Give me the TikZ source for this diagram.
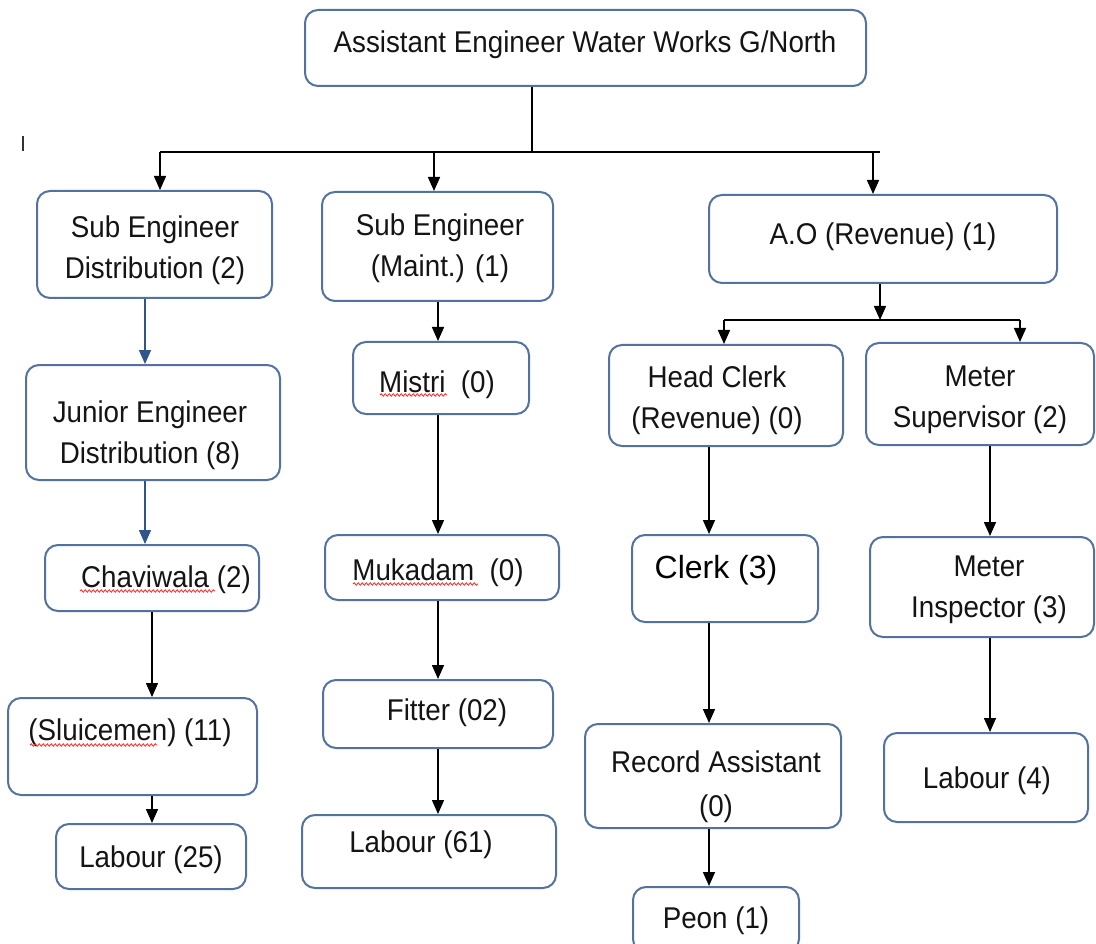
\documentclass[tikz,border=0pt]{standalone}
\usepackage{fontspec}
\setmainfont{Liberation Sans}[FakeStretch=0.925]
\newfontfamily\clerkfont{Liberation Sans}
\usepackage{xcolor}
\usepackage{tikz}
\usetikzlibrary{arrows.meta}
\usetikzlibrary{decorations.pathmorphing}

\definecolor{boxline}{RGB}{84,114,160}
\definecolor{arrowblue}{RGB}{47,85,140}
\definecolor{txt}{RGB}{20,20,20}

\begin{document}
\begin{tikzpicture}[x=1pt, y=-1pt,
        box/.style={draw=boxline, line width=2pt, rounded corners=13pt, inner sep=0pt, fill=white},
        lbl/.style={font=\fontsize{30}{41}\selectfont, text=txt, align=center, inner sep=0pt},
        link/.style={line width=1.5pt},
        conn/.style={line width=1.5pt, -{Triangle[width=12pt,length=14pt]}},
        wavy/.style={red!85!white, line width=0.8pt, decorate,
            decoration={snake, amplitude=1.2pt, segment length=4pt}}]

        \fill[white] (0,0) rectangle (1096,944);
        \useasboundingbox (0,0) rectangle (1096,944);
        \clip (0,0) rectangle (1096,944);

        \draw[line width=1.4pt, black!80] (23,136) -- (23,151);

        \node[box, minimum width=561pt, minimum height=76pt] (ae) at (585.5,48) {};
        \node[box, minimum width=235pt, minimum height=107pt] (sed) at (154.5,244.5) {};
        \node[box, minimum width=231pt, minimum height=109pt] (sem) at (437.5,246.5) {};
        \node[box, minimum width=348pt, minimum height=88pt] (ao) at (883,239) {};
        \node[box, minimum width=234pt, minimum height=101pt] (hc) at (726,395.5) {};
        \node[box, minimum width=228pt, minimum height=102pt] (ms) at (980,394) {};
        \node[box, minimum width=254pt, minimum height=115pt] (je) at (153,422.5) {};
        \node[box, minimum width=214pt, minimum height=66pt] (chv) at (152,578) {};
        \node[box, minimum width=249pt, minimum height=97pt] (sl) at (132.5,746.5) {};
        \node[box, minimum width=190pt, minimum height=65pt] (lab25) at (151,856.5) {};
        \node[box, minimum width=176pt, minimum height=72pt] (mis) at (441,378) {};
        \node[box, minimum width=234pt, minimum height=65pt] (muk) at (442,567.5) {};
        \node[box, minimum width=230pt, minimum height=68pt] (fit) at (438,714) {};
        \node[box, minimum width=254pt, minimum height=73pt] (lab61) at (429,851.5) {};
        \node[box, minimum width=186pt, minimum height=87pt] (clk) at (725,578.5) {};
        \node[box, minimum width=256pt, minimum height=104pt] (ra) at (713,776) {};
        \node[box, minimum width=166pt, minimum height=65pt] (peon) at (716,919.5) {};
        \node[box, minimum width=224pt, minimum height=100pt] (mi) at (982,587) {};
        \node[box, minimum width=204pt, minimum height=89pt] (lab4) at (986,777.5) {};

        \node[lbl, anchor=base] (aeT) at (585,53) {Assistant Engineer Water Works G/North};
        \node[lbl] (sedT) at (155,250) {Sub Engineer\\Distribution (2)};
        \node[lbl] (semT) at (440,248) {Sub Engineer\\(Maint.) (1)};
        \node[lbl, anchor=base] (aoT) at (883,245) {A.O (Revenue) (1)};
        \node[lbl] (hcT) at (717,400) {Head Clerk\\(Revenue) (0)};
        \node[lbl] (msT) at (980,400) {Meter\\Supervisor (2)};
        \node[lbl] (jeT) at (150,435) {Junior Engineer\\Distribution (8)};
        \node[lbl, anchor=base] (chvT) at (166,587) {Chaviwala (2)};
        \node[lbl, anchor=base] (slT) at (130,740) {(Sluicemen) (11)};
        \node[lbl, anchor=base] (lab25T) at (151,867) {Labour (25)};
        \node[lbl, anchor=base] (misT) at (437,392) {Mistri\ \ (0)};
        \node[lbl, anchor=base] (mukT) at (438,580) {Mukadam\ \ (0)};
        \node[lbl, anchor=base] (fitT) at (447,720) {Fitter (02)};
        \node[lbl, anchor=base] (lab61T) at (421,852) {Labour (61)};
        \node[lbl, anchor=base, font=\clerkfont\fontsize{32}{38}\selectfont, text=black] (clkT) at (716,578) {Clerk (3)};
        \node[lbl] (raT) at (716,787) {Record Assistant\\[3pt](0)};
        \node[lbl, anchor=base] (peonT) at (716,928) {Peon (1)};
        \node[lbl] (miT) at (989,590) {Meter\\Inspector (3)};
        \node[lbl, anchor=base] (lab4T) at (987,788) {Labour (4)};

        \draw[wavy] (80,591) -- (215,591);
        \draw[wavy] (380,395) -- (447,395);
        \draw[wavy] (353,584) -- (478,584);
        \draw[wavy] (30,745) -- (157,745);

        \coordinate (top) at (532,152);
        \coordinate (busL) at (160,152);
        \coordinate (busM) at (434,152);
        \coordinate (busA) at (873,152);
        \coordinate (busR) at (880,152);
        \draw[link] (ae.south -| top) -- (top);
        \draw[link] (busL) -- (busR);
        \draw[conn] (busL) -- (busL |- sed.north);
        \draw[conn] (busM) -- (busM |- sem.north);
        \draw[conn] (busA) -- (busA |- ao.north);

        \coordinate (rev) at (880,320);
        \coordinate (revL) at (724,320);
        \coordinate (revR) at (1020,320);
        \draw[conn] (ao.south -| rev) -- (rev);
        \draw[link] (revL) -- (revR);
        \draw[conn] (revL) -- (revL |- hc.north);
        \draw[conn] (revR) -- (revR |- ms.north);

        \draw[conn, arrowblue] (sed.south -| 145,0) -- (je.north -| 145,0);
        \draw[conn, arrowblue] (je.south -| 145,0) -- (chv.north -| 145,0);
        \draw[conn] (chv.south -| 152,0) -- (sl.north -| 152,0);
        \draw[conn] (sl.south -| 152,0) -- (lab25.north -| 152,0);

        \draw[conn] (sem.south -| 438,0) -- (mis.north -| 438,0);
        \draw[conn] (mis.south -| 438,0) -- (muk.north -| 438,0);
        \draw[conn] (muk.south -| 438,0) -- (fit.north -| 438,0);
        \draw[conn] (fit.south -| 438,0) -- (lab61.north -| 438,0);

        \draw[conn] (hc.south -| 709,0) -- (clk.north -| 709,0);
        \draw[conn] (clk.south -| 709,0) -- (ra.north -| 709,0);
        \draw[conn] (ra.south -| 709,0) -- (peon.north -| 709,0);

        \draw[conn] (ms.south -| 990,0) -- (mi.north -| 990,0);
        \draw[conn] (mi.south -| 990,0) -- (lab4.north -| 990,0);
    \end{tikzpicture}
\end{document}
